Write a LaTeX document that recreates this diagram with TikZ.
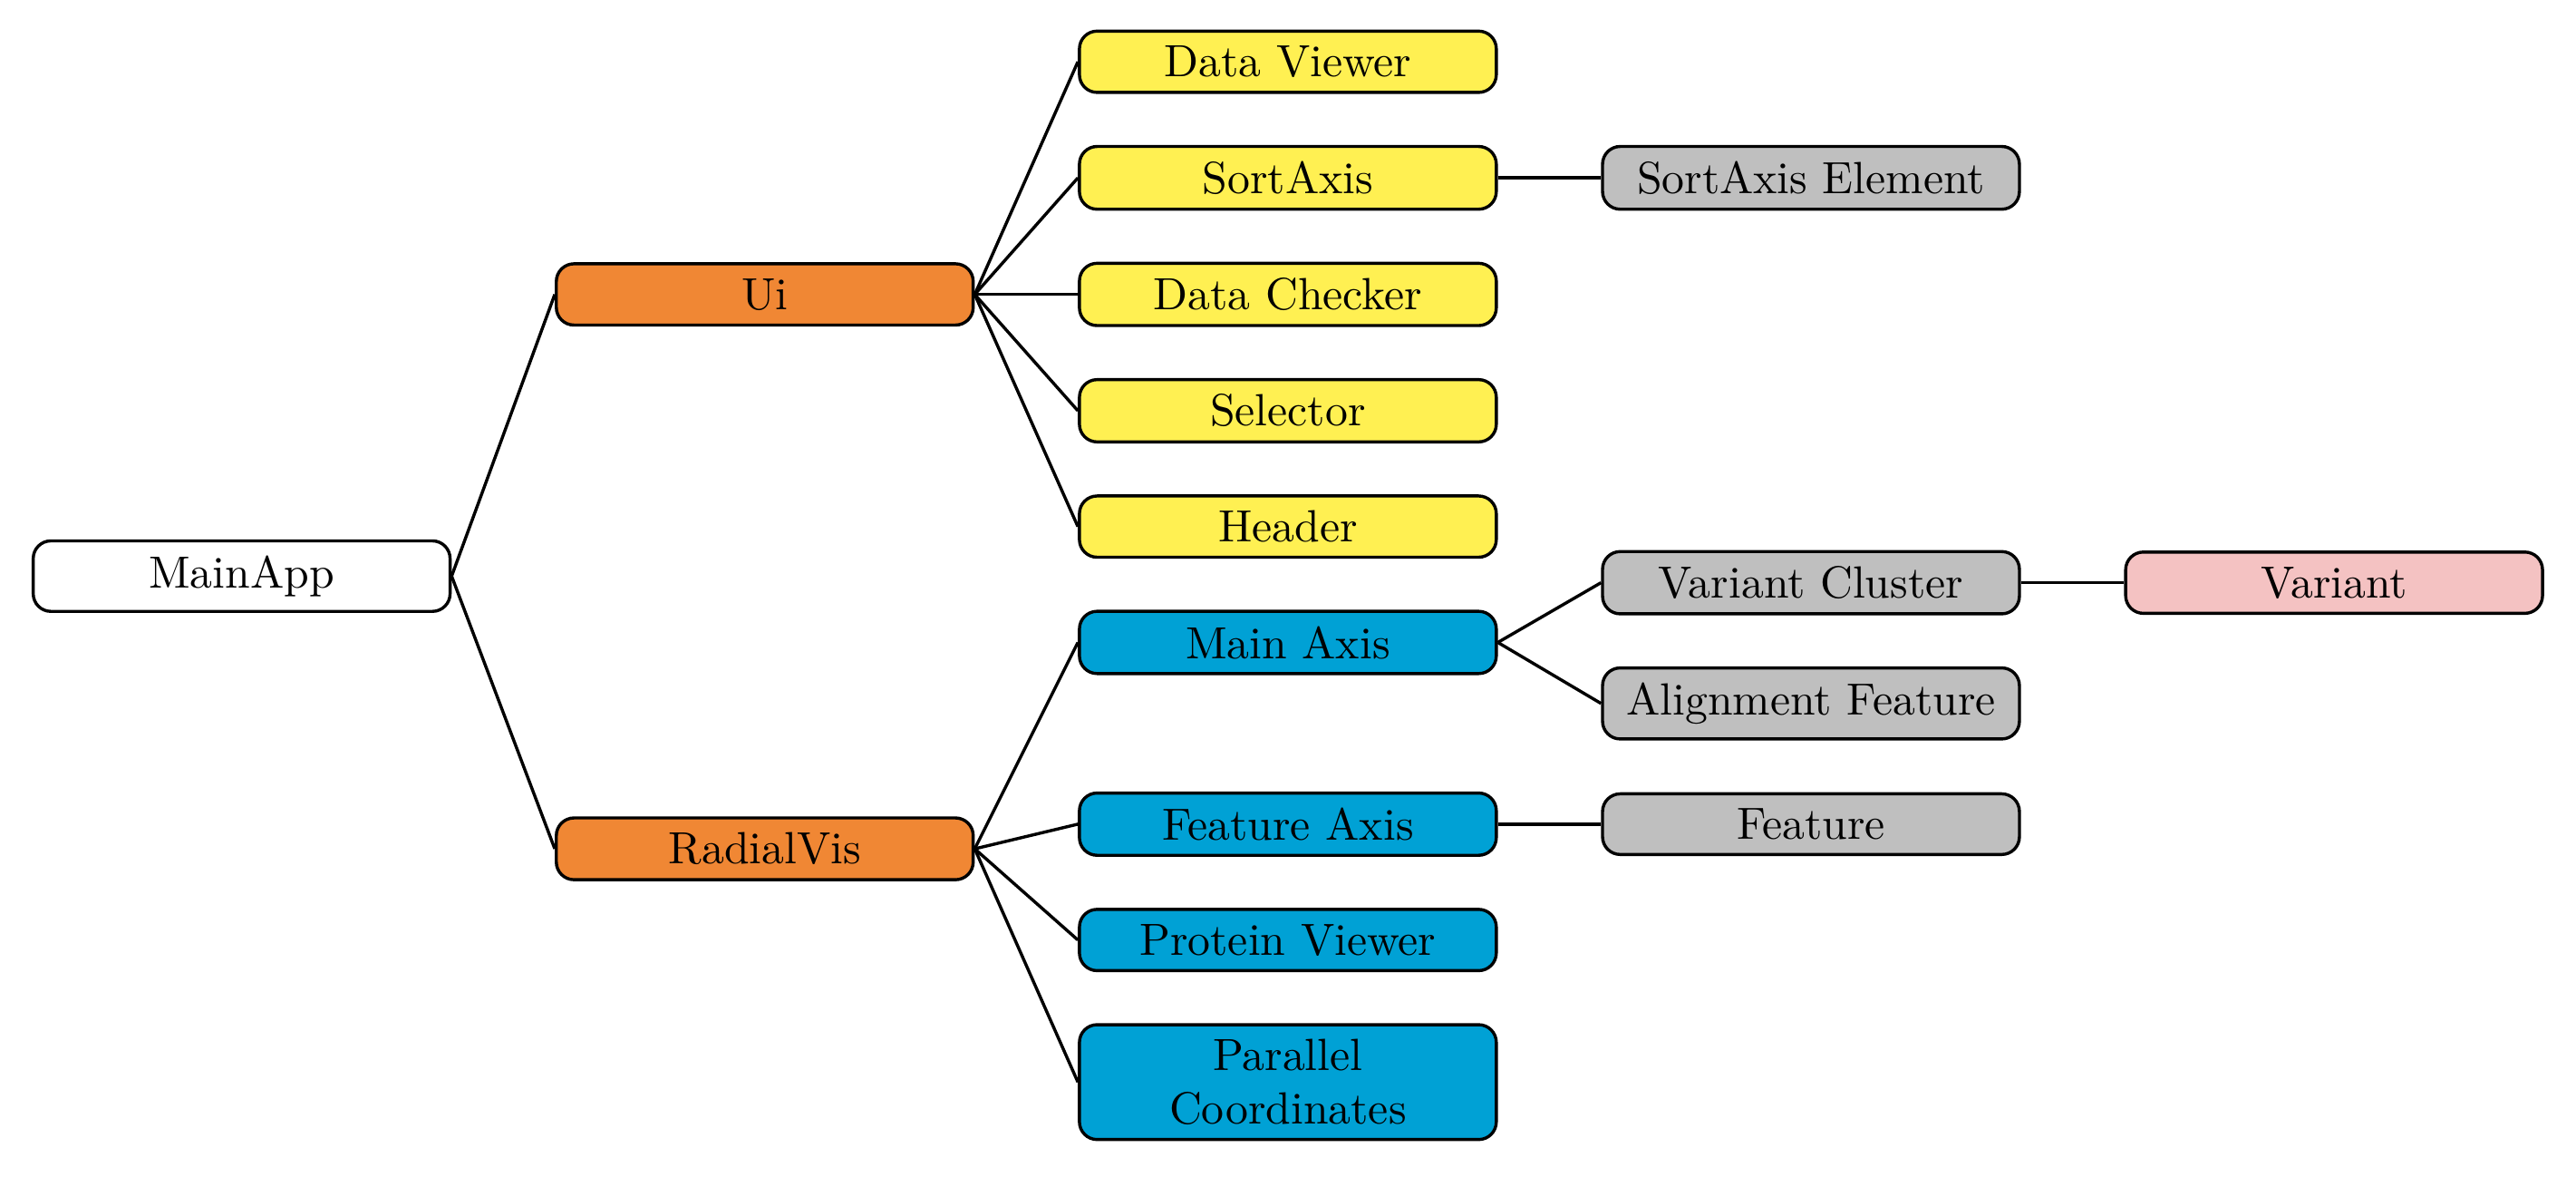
\documentclass[tikz,border=0pt]{standalone}
\usepackage{tikz}
\usetikzlibrary{calc, positioning}
\definecolor{toporange}{RGB}{240,135,52}
\definecolor{uiyellow}{RGB}{255,240,82}
\definecolor{visblue}{RGB}{0,161,213}
\definecolor{leafgray}{RGB}{191,191,191}
\definecolor{varpink}{RGB}{244,194,194}
\tikzstyle{box}   = [rectangle, rounded corners=4pt, text width=3.08cm, align=center, draw=black, line width=0.7pt, font=\fontsize{10.2}{12}\selectfont]
\tikzstyle{root}  = [box, fill=white]
\tikzstyle{top}   = [box, fill=toporange]
\tikzstyle{ui}    = [box, fill=uiyellow]
\tikzstyle{vis}   = [box, fill=visblue]
\tikzstyle{leaf}  = [box, fill=leafgray]
\tikzstyle{extra} = [box, fill=varpink]
\tikzstyle{link}  = [line width=0.7pt]

\begin{document}
\begin{tikzpicture}[node distance=0.405cm and 0.82cm]
      \useasboundingbox (0,0) rectangle (20.48,-9.35);

      \node (dv)  [ui, anchor=north] at (10.239,-0.235) {Data Viewer};
      \node (sa)  [ui, below=of dv]  {SortAxis};
      \node (dc)  [ui, below=of sa]  {Data Checker};
      \node (sel) [ui, below=of dc]  {Selector};
      \node (hd)  [ui, below=of sel] {Header};
      \node (ma)  [vis, below=of hd] {Main Axis};

      \node (sae) [leaf, right=of sa] {SortAxis Element};
      \node (vc)  [leaf, anchor=south west] at ($(ma.east)+(0.82,0.215)$) {Variant Cluster};
      \node (af)  [leaf, below=of vc] {Alignment Feature};
      \node (var) [extra, right=of vc] {Variant};

      \node (fa)  [vis, anchor=north] at ($(af.south -| ma.south)+(0,-0.405)$) {Feature Axis};
      \node (pv)  [vis, below=of fa] {Protein Viewer};
      \node (pc)  [vis, below=of pv] {Parallel\\Coordinates};
      \node (ft)  [leaf, right=of fa] {Feature};

      \node (ui)  [top, left=of dc] {Ui};
      \node (rv)  [top, left=of fa, yshift=-0.196cm] {RadialVis};

      \coordinate (mid) at ($(ui.north west)!0.5!(rv.north west)$);
      \node (main) [root, anchor=north east, xshift=-0.82cm] at (mid) {MainApp};

      \draw [link] (main.east) -- (ui.west);
      \draw [link] (main.east) -- (rv.west);

      \draw [link] (ui.east) -- (dv.west);
      \draw [link] (ui.east) -- (sa.west);
      \draw [link] (ui.east) -- (dc.west);
      \draw [link] (ui.east) -- (sel.west);
      \draw [link] (ui.east) -- (hd.west);

      \draw [link] (rv.east) -- (ma.west);
      \draw [link] (rv.east) -- (fa.west);
      \draw [link] (rv.east) -- (pv.west);
      \draw [link] (rv.east) -- (pc.west);

      \draw [link] (sa.east) -- (sae.west);
      \draw [link] (ma.east) -- (vc.west);
      \draw [link] (ma.east) -- (af.west);
      \draw [link] (vc.east) -- (var.west);
      \draw [link] (fa.east) -- (ft.west);

    \end{tikzpicture}
\end{document}
